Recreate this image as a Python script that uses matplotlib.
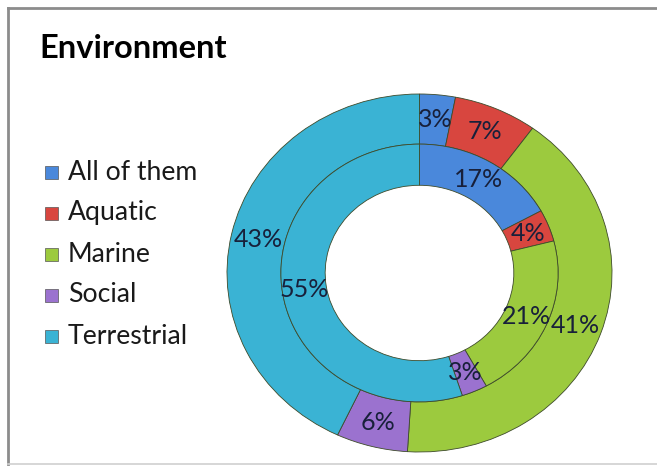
import matplotlib
matplotlib.use("Agg")
import matplotlib.pyplot as plt
from matplotlib.patches import Rectangle
from matplotlib.lines import Line2D

categories = ["All of them", "Aquatic", "Marine", "Social", "Terrestrial"]
outer_values = [3, 7, 41, 6, 43]
inner_values = [17, 4, 21, 3, 55]
colors = ["#4a88db", "#d8463f", "#9cca3e", "#9b72cf", "#3ab3d4"]
title = "Environment"

W, H = 657, 468
fig = plt.figure(figsize=(W / 100, H / 100), dpi=100)
fig.patch.set_facecolor("white")

# chart frame (left & top strong, bottom faint)
fig.lines.append(Line2D([8 / W, 8 / W], [1 - 464 / H, 1 - 8 / H], transform=fig.transFigure,
                        color="#8c8c8c", linewidth=2))
fig.lines.append(Line2D([8 / W, 1.0], [1 - 8 / H, 1 - 8 / H], transform=fig.transFigure,
                        color="#8c8c8c", linewidth=2))
fig.lines.append(Line2D([8 / W, 1.0], [1 - 464 / H, 1 - 464 / H], transform=fig.transFigure,
                        color="#d0d0d0", linewidth=1.2))

cx, cy, rx, ry = 419.5, 273, 192.5, 179
ax = fig.add_axes([(cx - rx) / W, 1 - (cy + ry) / H, 2 * rx / W, 2 * ry / H])

font = ["Lato", "DejaVu Sans"]
label_kw = dict(fontsize=18, color="#18203a", family=font)

r_out, w_out = 1.0, 0.28
r_in, w_in = 0.72, 0.23

fmt = lambda p: f"{p:.0f}%"
ax.pie(outer_values, radius=r_out, colors=colors, startangle=90, counterclock=False,
       wedgeprops=dict(width=w_out, edgecolor="#3d4a2a", linewidth=0.6),
       autopct=fmt, pctdistance=(r_out - w_out / 2) / r_out, textprops=label_kw)
ax.pie(inner_values, radius=r_in, colors=colors, startangle=90, counterclock=False,
       wedgeprops=dict(width=w_in, edgecolor="#3d4a2a", linewidth=0.6),
       autopct=fmt, pctdistance=(r_in - w_in / 2) / r_in, textprops=label_kw)
ax.set_aspect("auto")
ax.set_xlim(-1, 1)
ax.set_ylim(-1, 1)
ax.axis("off")

fig.text(39 / W, 1 - 49 / H, title, fontsize=23.5, fontweight="bold",
         family=font, color="black", va="center", ha="left")

for i, (cat, col) in enumerate(zip(categories, colors)):
    y = 172 + i * 41
    fig.patches.append(Rectangle((45 / W, 1 - (y + 6.5) / H), 13 / W, 13 / H,
                                 transform=fig.transFigure, facecolor=col,
                                 edgecolor="#555555", linewidth=0.5))
    fig.text(68 / W, 1 - y / H, cat, fontsize=19.2, family=font,
             color="#1a1a1a", va="center", ha="left")

fig.savefig("out.png", dpi=100)
